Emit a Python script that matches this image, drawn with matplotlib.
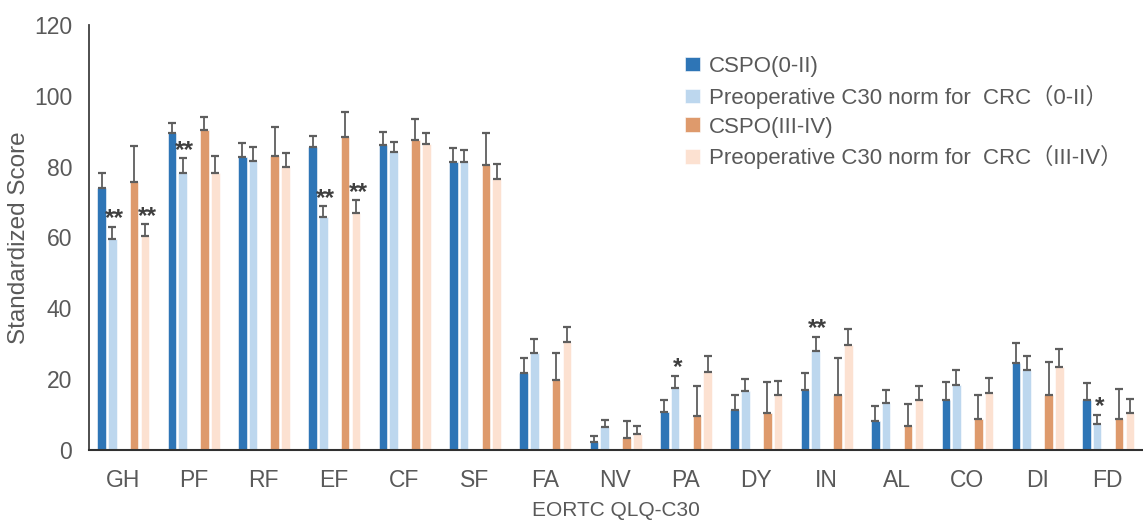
import numpy as np
import matplotlib
matplotlib.use("Agg")
import matplotlib.pyplot as plt

# ---------------- data ----------------
categories = ["GH", "PF", "RF", "EF", "CF", "SF", "FA", "NV", "PA", "DY",
              "IN", "AL", "CO", "DI", "FD"]

cspo_early = [74.1, 89.5, 82.6, 85.5, 86.0, 81.3, 21.8, 2.3, 10.6, 11.2, 16.9, 8.3, 14.1, 24.7, 14.1]
cspo_early_err = [4.2, 2.7, 4.2, 3.3, 3.9, 4.0, 4.1, 1.6, 3.4, 4.2, 4.9, 4.0, 5.1, 5.5, 4.9]

norm_early = [59.7, 78.3, 81.5, 65.7, 84.2, 81.3, 27.4, 6.4, 17.4, 16.7, 27.9, 13.3, 18.3, 22.6, 7.4]
norm_early_err = [3.4, 4.1, 4.0, 3.2, 2.9, 3.4, 3.9, 2.2, 3.6, 3.3, 4.1, 3.6, 4.2, 4.0, 2.6]

cspo_late = [75.8, 90.4, 83.1, 88.5, 87.6, 80.6, 19.8, 3.3, 9.6, 10.5, 15.5, 6.9, 8.7, 15.5, 8.7]
cspo_late_err = [10.1, 3.5, 8.1, 6.9, 6.0, 8.8, 7.5, 4.9, 8.4, 8.7, 10.6, 6.2, 6.7, 9.4, 8.4]

norm_late = [60.5, 78.3, 79.9, 66.9, 86.3, 76.6, 30.6, 4.6, 22.1, 15.6, 29.7, 14.1, 16.1, 23.5, 10.5]
norm_late_err = [3.3, 4.8, 4.1, 3.7, 3.1, 4.1, 4.2, 2.2, 4.5, 4.0, 4.6, 4.1, 4.3, 4.9, 3.9]

sig_early = ["**", "**", "", "**", "", "", "", "", "*", "", "**", "", "", "", "*"]
sig_late = ["**", "", "", "**", "", "", "", "", "", "", "", "", "", "", ""]

series_labels = ["CSPO(0-II)",
                 "Preoperative C30 norm for  CRC\uff080-II\uff09",
                 "CSPO(III-IV)",
                 "Preoperative C30 norm for  CRC\uff08III-IV\uff09"]
yticks = [0, 20, 40, 60, 80, 100, 120]

# ---------------- style ----------------
colors = ["#2E75B6", "#BDD7EE", "#DE9A6C", "#FCE1D1"]
text_color = "#595959"
err_color = "#5E5E5E"
plt.rcParams["font.family"] = ["Liberation Sans", "Noto Sans CJK SC", "DejaVu Sans"]

fig = plt.figure(figsize=(11.43, 5.22), dpi=100)
ax = fig.add_axes([89 / 1143, 1 - 450 / 522, 1 - 89 / 1143, (450 - 25) / 522])

x = np.arange(len(categories))
offsets = [-0.303, -0.152, 0.158, 0.313]
width = 0.122
values = [cspo_early, norm_early, cspo_late, norm_late]
errors = [cspo_early_err, norm_early_err, cspo_late_err, norm_late_err]

handles = []
for k in range(4):
    b = ax.bar(x + offsets[k], values[k], width, color=colors[k], label=series_labels[k],
               edgecolor="white", linewidth=0.4, zorder=2)
    handles.append(b)
    ax.errorbar(x + offsets[k], values[k], yerr=[np.zeros(len(x)), errors[k]],
                fmt="none", ecolor=err_color, elinewidth=1.3, capsize=2.6, capthick=1.6,
                zorder=3)

for sigs, k in ((sig_early, 1), (sig_late, 3)):
    for i, s in enumerate(sigs):
        if s:
            top = values[k][i] + errors[k][i]
            ax.text(x[i] + offsets[k] + 0.03, top + 0.4, s, ha="center", va="baseline",
                    fontsize=17.5, fontweight="bold", color="#3F3F3F", zorder=4)

ax.set_xlim(-0.483, 14.5)
ax.set_ylim(0, 120)
ax.set_yticks(yticks)
ax.set_xticks(x)
ax.set_xticklabels(categories)
ax.tick_params(axis="both", length=0, labelsize=16.5, colors=text_color)
ax.tick_params(axis="x", pad=14)
ax.tick_params(axis="y", pad=12)
for sp in ["top", "right"]:
    ax.spines[sp].set_visible(False)
ax.spines["left"].set_color("#404040")
ax.spines["left"].set_linewidth(1.3)
ax.spines["bottom"].set_color("#303030")
ax.spines["bottom"].set_linewidth(1.5)

ax.set_ylabel("Standardized Score", fontsize=17.5, color=text_color, labelpad=3)
ax.set_xlabel("EORTC QLQ-C30", fontsize=15, color=text_color, labelpad=6)

leg = ax.legend(handles=handles, labels=series_labels, loc="upper left",
                bbox_to_anchor=(685 / 1143, 1 - 56 / 522), bbox_transform=fig.transFigure,
                frameon=False, fontsize=16, handlelength=0.68, handleheight=0.63,
                handletextpad=0.4, labelspacing=0.35, borderpad=0, borderaxespad=0)
for t in leg.get_texts():
    t.set_color(text_color)

fig.savefig("out.png", dpi=100)
